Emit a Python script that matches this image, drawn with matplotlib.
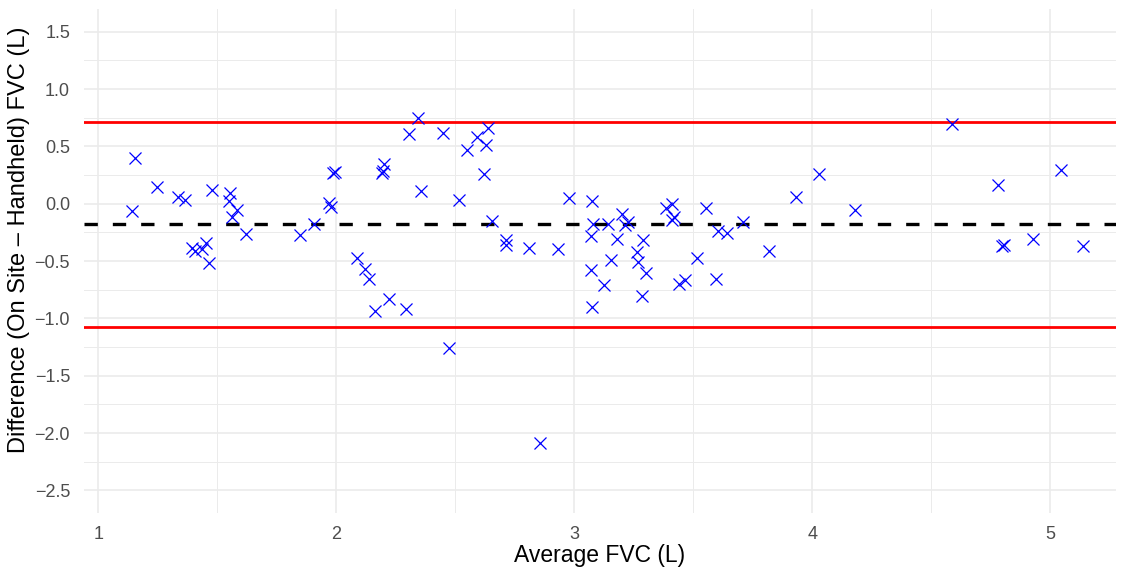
import matplotlib
matplotlib.use("Agg")
import matplotlib.pyplot as plt
from matplotlib.ticker import MultipleLocator

# Data (Bland-Altman plot)
avg_fvc = [
    1.155, 1.140, 1.247, 1.337, 1.366, 1.480, 1.552, 1.550, 1.583, 1.562,
    1.620, 1.394, 1.408, 1.436, 1.454, 1.466, 1.846, 1.905, 1.968, 1.978,
    1.993, 1.985, 2.342, 2.305, 2.450, 2.549, 2.591, 2.636, 2.629, 2.619,
    2.199, 2.192, 2.196, 2.356, 2.518, 2.655, 2.713, 2.713, 2.811, 2.934,
    2.979, 2.087, 2.122, 2.136, 2.220, 2.164, 2.294, 2.475, 2.857, 3.074,
    3.081, 3.070, 3.071, 3.074, 3.141, 3.200, 3.228, 3.214, 3.179, 3.154,
    3.127, 3.291, 3.263, 3.270, 3.301, 3.287, 3.387, 3.410, 3.421, 3.410,
    3.515, 3.442, 3.466, 3.597, 3.553, 3.606, 3.644, 3.711, 3.819, 3.931,
    4.027, 4.181, 4.587, 4.783, 4.797, 4.807, 4.927, 5.046, 5.137,
]
diff_fvc = [
    0.403, -0.066, 0.150, 0.059, 0.031, 0.118, 0.098, 0.022, -0.057, -0.115,
    -0.266, -0.383, -0.412, -0.391, -0.342, -0.517, -0.275, -0.179, 0.007, -0.028,
    0.278, 0.270, 0.744, 0.607, 0.616, 0.473, 0.583, 0.657, 0.517, 0.258,
    0.345, 0.269, 0.285, 0.109, 0.037, -0.150, -0.313, -0.362, -0.383, -0.391,
    0.054, -0.470, -0.566, -0.653, -0.828, -0.939, -0.921, -1.256, -2.090, 0.025,
    -0.173, -0.284, -0.575, -0.901, -0.179, -0.086, -0.159, -0.188, -0.304, -0.493,
    -0.712, -0.319, -0.421, -0.508, -0.604, -0.808, -0.036, 0.001, -0.115, -0.144,
    -0.470, -0.703, -0.668, -0.654, -0.036, -0.237, -0.255, -0.159, -0.409, 0.062,
    0.256, -0.057, 0.694, 0.167, -0.371, -0.362, -0.304, 0.298, -0.368,
]
bias = -0.179
loa_upper = 0.712
loa_lower = -1.073

x_ticks = [1, 2, 3, 4, 5]
y_ticks = [1.5, 1.0, 0.5, 0.0, -0.5, -1.0, -1.5, -2.0, -2.5]
x_label = "Average FVC (L)"
y_label = "Difference (On Site \u2013 Handheld) FVC (L)"

plt.rcParams['font.family'] = ['Liberation Sans', 'DejaVu Sans']

W, H = 1123, 567
fig = plt.figure(figsize=(W / 100, H / 100), dpi=100)
left, right, bottom, top = 84, 1116, 513.3, 8.9
ax = fig.add_axes([left / W, 1 - bottom / H, (right - left) / W, (bottom - top) / H])

ax.set_xlim(0.94, 5.277)
ax.set_ylim(-2.7, 1.7)

grid_col = "#EBEBEB"
ax.xaxis.set_major_locator(plt.FixedLocator(x_ticks))
ax.yaxis.set_major_locator(plt.FixedLocator(y_ticks))
ax.xaxis.set_minor_locator(MultipleLocator(0.5))
ax.yaxis.set_minor_locator(MultipleLocator(0.25))
ax.grid(True, which='major', color=grid_col, linewidth=1.2, zorder=0)
ax.grid(True, which='minor', color=grid_col, linewidth=0.7, zorder=0)
ax.set_axisbelow(True)
for s in ax.spines.values():
    s.set_visible(False)
ax.tick_params(which='both', length=0)
ax.tick_params(axis='both', which='major', labelsize=13, labelcolor="#4D4D4D")
ax.tick_params(axis='x', pad=9)
ax.tick_params(axis='y', pad=10)
ax.set_xticklabels([str(v) for v in x_ticks])
ax.set_yticklabels([("\u2212" if v < 0 else "") + f"{abs(v):.1f}" for v in y_ticks])

ax.axhline(loa_upper, color="#FF0000", linewidth=2.0, zorder=2)
ax.axhline(loa_lower, color="#FF0000", linewidth=2.0, zorder=2)
ax.axhline(bias, color="black", linewidth=2.4, dashes=(4, 4.5), zorder=2)

ax.plot(avg_fvc, diff_fvc, linestyle='none', marker='x', markersize=9,
        markeredgewidth=0.9, color="#0000FF", zorder=3)

ax.set_xlabel(x_label, fontsize=16.5, color="black", labelpad=1)
ax.set_ylabel(y_label, fontsize=17, color="black")
ax.yaxis.set_label_coords((30 - left) / (right - left), (bottom - 240) / (bottom - top))

fig.savefig("out.png", dpi=100, facecolor="white")
